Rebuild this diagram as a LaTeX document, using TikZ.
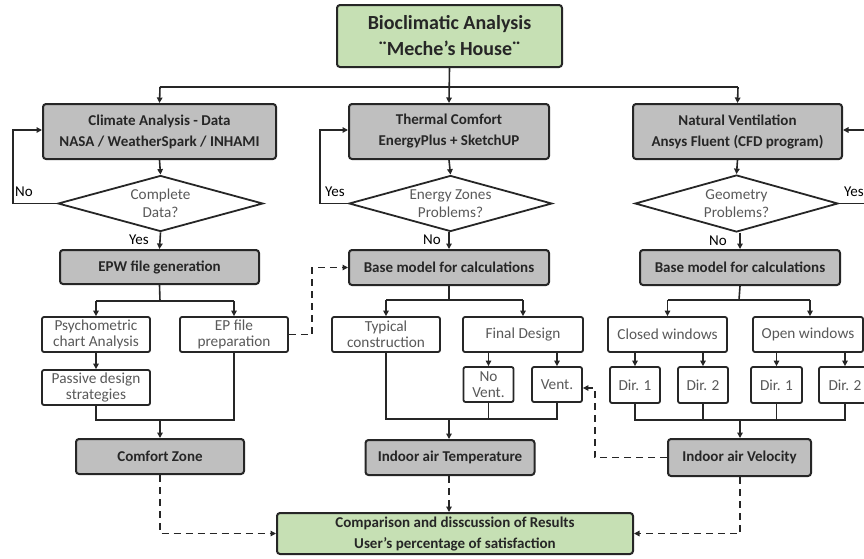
\documentclass[tikz,border=0pt]{standalone}
\usepackage{fontspec}
\setmainfont{Carlito}
\usetikzlibrary{shapes.geometric,arrows.meta}
\definecolor{boxgray}{HTML}{BFBFBF}
\definecolor{boxgreen}{HTML}{C6E0B4}
\definecolor{txtgray}{HTML}{595959}
\definecolor{txtdark}{HTML}{262626}
\tikzset{
  gbox/.style={draw=black!85, line width=2pt, rounded corners=3pt, fill=boxgray, align=center, inner sep=0pt,
     text=txtdark, font=\bfseries\fontsize{15}{21}\selectfont},
  grbox/.style={gbox, fill=boxgreen},
  wbox/.style={draw=black!85, line width=1.8pt, rounded corners=2pt, fill=white, align=center, inner sep=0pt,
     text=txtgray, font=\fontsize{15.3}{16}\selectfont},
  dia/.style={draw=black!85, line width=1.8pt, diamond, aspect=3.6, inner sep=0pt, align=center,
     text=txtgray, font=\fontsize{15.2}{17.5}\selectfont},
  conn/.style={line width=1.6pt, draw=black!85},
  arr/.style={conn, -{Triangle[length=5.5pt,width=5.5pt]}},
  dashc/.style={conn, dash pattern=on 7pt off 5pt},
  darr/.style={dashc, -{Triangle[length=5.5pt,width=5.5pt]}},
  lbl/.style={font=\fontsize{15}{17}\selectfont, text=black, inner sep=0pt},
}
\begin{document}
\begin{tikzpicture}[x=1pt,y=-1pt]
\useasboundingbox (0,0) rectangle (864,558);
% boxes
\node[grbox, minimum width=225pt, minimum height=62pt, font=\bfseries\fontsize{20}{26}\selectfont] (top) at (449.5,36) {Bioclimatic Analysis\\¨Meche’s House¨};
\node[gbox, minimum width=233pt, minimum height=55pt] (clim) at (159.5,131.5) {Climate Analysis - Data\\NASA / WeatherSpark / INHAMI};
\node[gbox, minimum width=200pt, minimum height=55pt] (therm) at (449,131.5) {Thermal Comfort\\EnergyPlus + SketchUP};
\node[gbox, minimum width=209pt, minimum height=55pt] (natv) at (737.5,131.5) {Natural Ventilation\\Ansys Fluent (CFD program)};
\node[dia, minimum width=205pt, minimum height=56pt] (d1) at (160.5,203.5) {Complete\\Data?};
\node[dia, minimum width=203pt, minimum height=56pt] (d2) at (450.5,203.5) {Energy Zones\\Problems?};
\node[dia, minimum width=203pt, minimum height=57pt] (d3) at (736.5,203.5) {Geometry\\Problems?};
\node[gbox, minimum width=199pt, minimum height=34pt] (epw) at (159.5,267) {EPW file generation};
\node[gbox, minimum width=200pt, minimum height=35pt] (base1) at (449,267.5) {Base model for calculations};
\node[gbox, minimum width=200pt, minimum height=35pt] (base2) at (740,267.5) {Base model for calculations};
\node[wbox, minimum width=108pt, minimum height=35pt] (psy) at (96,334.5) {Psychometric\\chart Analysis};
\node[wbox, minimum width=108pt, minimum height=35pt] (epf) at (234,334.5) {EP file\\preparation};
\node[wbox, minimum width=108pt, minimum height=35pt] (pas) at (96,387.5) {Passive design\\strategies};
\node[gbox, minimum width=168pt, minimum height=35pt] (comf) at (160,456.5) {Comfort Zone};
\node[wbox, minimum width=108pt, minimum height=35pt] (typ) at (386,334.5) {Typical\\construction};
\node[wbox, minimum width=120pt, minimum height=35pt] (fin) at (523,334.5) {Final Design};
\node[wbox, minimum width=50pt, minimum height=35pt] (nov) at (488.5,384.5) {No\\Vent.};
\node[wbox, minimum width=50pt, minimum height=35pt] (ven) at (557,384.5) {Vent.};
\node[gbox, minimum width=169pt, minimum height=35pt] (temp) at (450,457.5) {Indoor air Temperature};
\node[wbox, minimum width=119pt, minimum height=35pt] (clo) at (667.5,334.5) {Closed windows};
\node[wbox, minimum width=110pt, minimum height=35pt] (opn) at (808,334.5) {Open windows};
\node[wbox, minimum width=50pt, minimum height=36pt] (d11) at (635,385) {Dir. 1};
\node[wbox, minimum width=50pt, minimum height=36pt] (d12) at (703,385) {Dir. 2};
\node[wbox, minimum width=51pt, minimum height=36pt] (d21) at (776.5,385) {Dir. 1};
\node[wbox, minimum width=52pt, minimum height=36pt] (d22) at (845,385) {Dir. 2};
\node[gbox, minimum width=143pt, minimum height=37pt] (vel) at (739.5,457.5) {Indoor air Velocity};
\node[grbox, minimum width=356pt, minimum height=41pt] (comp) at (455,533.5) {Comparison and disscussion of Results\\User’s percentage of satisfaction};
% coordinates
\coordinate (hL) at (160,87);
\coordinate (hR) at (738,87);
\coordinate (l1a) at (13,203.5);
\coordinate (l1b) at (13,130);
\coordinate (l2a) at (320,203.5);
\coordinate (l2b) at (320,130);
\coordinate (l3a) at (868,203.5);
\coordinate (l3b) at (868,130);
% top distribution
\draw[conn] (hL) -- (hR);
\draw[arr] (top.south) -- (therm.north);
\draw[arr] (hL) -- (clim.north);
\draw[arr] (hR) -- (natv.north);
% column 1
\draw[arr] (clim.south) -- (d1.north);
\draw[arr] (d1.west) -- (l1a) -- (l1b) -- (clim.west |- l1b);
\node[lbl, anchor=west] (no1) at (15,192) {No};
\draw[arr] (d1.south) -- (epw.north);
\node[lbl] (yes1) at (139,240) {Yes};
\coordinate (s1) at (160,301);
\draw[conn] (epw.south) -- (s1);
\draw[conn] (psy.north |- s1) -- (epf.north |- s1);
\draw[arr] (psy.north |- s1) -- (psy.north);
\draw[arr] (epf.north |- s1) -- (epf.north);
\draw[arr] (psy.south) -- (pas.north);
\coordinate (j1) at (160,420);
\draw[conn] (pas.south) -- (pas.south |- j1) -- (epf.south |- j1) -- (epf.south);
\draw[arr] (j1) -- (comf.north);
\draw[darr] (epf.east) -- (312,334.5) -- (312,267.5) -- (base1.west);
\draw[darr] (comf.south) -- (comf.south |- comp.west) -- (comp.west);
% column 2
\draw[arr] (therm.south) -- (d2.north);
\draw[arr] (d2.west) -- (l2a) -- (l2b) -- (therm.west |- l2b);
\node[lbl] (yes2) at (335,192) {Yes};
\draw[arr] (d2.south -| base1.north) -- (base1.north);
\node[lbl] (no2) at (432,240) {No};
\coordinate (s2) at (449,300);
\draw[conn] (base1.south) -- (s2);
\draw[conn] (typ.north |- s2) -- (fin.north |- s2);
\draw[arr] (typ.north |- s2) -- (typ.north);
\draw[arr] (fin.north |- s2) -- (fin.north);
\draw[arr] (fin.south -| nov.north) -- (nov.north);
\draw[arr] (fin.south -| ven.north) -- (ven.north);
\coordinate (j2) at (449,419);
\draw[conn] (typ.south) -- (typ.south |- j2) -- (ven.south |- j2) -- (ven.south);
\draw[conn] (nov.south) -- (nov.south |- j2);
\draw[arr] (j2) -- (temp.north -| j2);
\draw[darr] (temp.south -| j2) -- (comp.north -| j2);
% column 3
\draw[arr] (natv.south) -- (d3.north);
\draw[arr] (d3.east) -- (l3a) -- (l3b) -- (natv.east |- l3b);
\node[lbl, anchor=west] (yes3) at (844,192) {Yes};
\draw[arr] (d3.south -| base2.north) -- (base2.north);
\node[lbl] (no3) at (718,241) {No};
\coordinate (s3) at (739,300);
\draw[conn] (base2.south) -- (s3);
\draw[conn] (clo.north |- s3) -- (810,300);
\draw[arr] (clo.north |- s3) -- (clo.north);
\draw[arr] (810,300) -- (opn.north -| 810,0);
\draw[arr] (clo.south -| d11.north) -- (d11.north);
\draw[arr] (clo.south -| d12.north) -- (d12.north);
\draw[arr] (opn.south -| d21.north) -- (d21.north);
\draw[arr] (opn.south -| d22.north) -- (d22.north);
\coordinate (j3) at (740,420);
\draw[conn] (d11.south) -- (d11.south |- j3) -- (d22.south |- j3) -- (d22.south);
\draw[conn] (d12.south) -- (d12.south |- j3);
\draw[conn] (d21.south) -- (d21.south |- j3);
\draw[arr] (j3) -- (vel.north -| j3);
\draw[darr] (vel.west) -- (595,457.5) -- (595,388) -- (ven.east |- 0,388);
\draw[darr] (vel.south -| j3) -- (j3 |- comp.east) -- (comp.east);
\end{tikzpicture}
\end{document}
